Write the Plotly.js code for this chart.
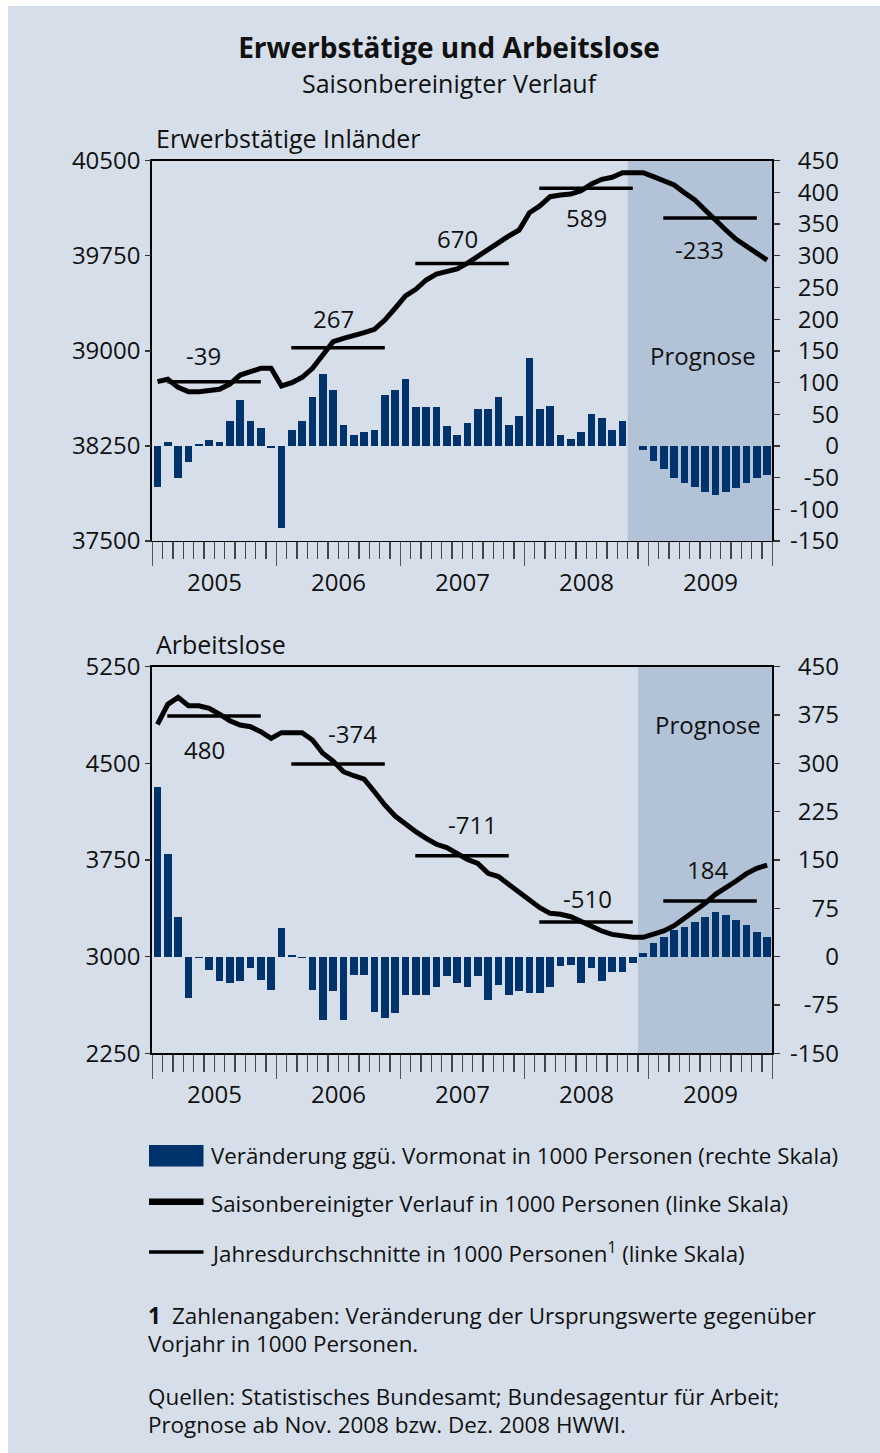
<!DOCTYPE html>
<html>
<head>
<meta charset="utf-8">
<script src="https://cdn.plot.ly/plotly-3.0.1.min.js"></script>
<style>
html,body{margin:0;padding:0;background:#ffffff;}
#chart{position:absolute;left:8px;top:6px;width:872px;height:1447px;}
</style>
</head>
<body>
<div id="chart"></div>
<script>
// ---------------- DATA ----------------
const years = ['2005', '2006', '2007', '2008', '2009'];

// Erwerbstätige Inländer – Veränderung ggü. Vormonat (1000 Personen, rechte Skala)
const empChange = [
  -65, 6, -51, -25, 3, 9, 6, 39, 72, 39, 28, -4,
  -130, 25, 39, 77, 113, 88, 33, 18, 22, 25, 81, 88,
  105, 61, 61, 61, 31, 17, 36, 58, 58, 77, 33, 47,
  138, 58, 63, 17, 11, 22, 50, 44, 25, 40, 0, -6,
  -24, -36, -50, -58, -65, -73, -77, -73, -66, -58, -50, -46
];
// Erwerbstätige Inländer – saisonbereinigter Verlauf (1000 Personen, linke Skala)
const empLevel = [
  38757, 38776, 38712, 38678, 38678, 38691, 38697, 38738, 38809, 38836, 38862, 38862,
  38723, 38749, 38791, 38862, 38975, 39072, 39099, 39117, 39143, 39170, 39243, 39336,
  39433, 39485, 39559, 39606, 39630, 39646, 39692, 39748, 39801, 39861, 39906, 39953,
  40090, 40143, 40216, 40229, 40237, 40263, 40316, 40353, 40369, 40405, 40408, 40405,
  40374, 40340, 40308, 40248, 40190, 40111, 40027, 39953, 39880, 39822, 39769, 39716
];
const empAvg = [38757, 39025, 39690, 40282, 40048];
const empAvgLabels = ['-39', '267', '670', '589', '-233'];

// Arbeitslose – Veränderung ggü. Vormonat (1000 Personen, rechte Skala)
const unempChange = [
  263, 160, 61, -64, -2, -21, -38, -41, -38, -18, -36, -52,
  44, 2, -2, -52, -98, -53, -98, -28, -28, -86, -95, -87,
  -59, -59, -59, -47, -30, -41, -47, -30, -67, -44, -59, -53,
  -56, -56, -47, -14, -13, -41, -18, -38, -24, -24, -10, 6,
  21, 31, 41, 46, 54, 62, 69, 65, 57, 49, 38, 31
];
// Arbeitslose – saisonbereinigter Verlauf (1000 Personen, linke Skala)
const unempLevel = [
  4803, 4958, 5012, 4947, 4947, 4927, 4881, 4831, 4797, 4784, 4746, 4694,
  4738, 4741, 4738, 4681, 4578, 4518, 4435, 4404, 4378, 4280, 4177, 4091,
  4027, 3970, 3918, 3872, 3846, 3802, 3755, 3724, 3647, 3621, 3561, 3504,
  3432, 3380, 3336, 3329, 3310, 3271, 3240, 3199, 3173, 3160, 3150, 3150,
  3173, 3199, 3240, 3298, 3349, 3414, 3484, 3530, 3587, 3644, 3686, 3711
];
const unempAvg = [4867, 4495, 3783, 3269, 3432];
const unempAvgLabels = ['480', '-374', '-711', '-510', '184'];

// tick labels
const leftTicksEmp = [37500, 38250, 39000, 39750, 40500];
const rightTicksEmp = [-150, -100, -50, 0, 50, 100, 150, 200, 250, 300, 350, 400, 450];
const leftTicksUnemp = [2250, 3000, 3750, 4500, 5250];
const rightTicksUnemp = [-150, -75, 0, 75, 150, 225, 300, 375, 450];

// forecast (Prognose) start month index: Nov 2008 / Dez 2008
const forecastStartEmp = 46;
const forecastStartUnemp = 47;

// ---------------- LAYOUT HELPERS ----------------
const W = 872, H = 1447, OX = 8, OY = 6;
const px = x => (x - OX) / W;
const py = y => 1 - (y - OY) / H;

const FONT = '"Open Sans", sans-serif';
const TXT = '#111111';
const BG = '#d6dfe9';
const SHADE = '#b2c3d8';
const BAR = '#00336b';

const nMonths = years.length * 12;
const monthX = Array.from({length: nMonths}, (_, i) => i);
const xRange = [-0.5, nMonths - 0.5];

function avgSegments(levels) {
  const xs = [], ys = [];
  levels.forEach((v, k) => {
    xs.push(k * 12 + 0.95, k * 12 + 10.0, null);
    ys.push(v, v, null);
  });
  return {xs, ys};
}

const segEmp = avgSegments(empAvg);
const segUnemp = avgSegments(unempAvg);

const traces = [
  {type: 'bar', x: monthX, y: empChange, xaxis: 'x', yaxis: 'y',
   marker: {color: BAR, line: {width: 0}}, width: 0.72, hoverinfo: 'skip'},
  {type: 'scatter', mode: 'lines', x: monthX, y: empLevel, xaxis: 'x', yaxis: 'y2',
   line: {color: '#000', width: 5}, hoverinfo: 'skip'},
  {type: 'scatter', mode: 'lines', x: segEmp.xs, y: segEmp.ys, xaxis: 'x', yaxis: 'y2',
   line: {color: '#000', width: 3.5}, connectgaps: false, hoverinfo: 'skip'},
  // carrier for the right-hand tick-label axis (draws nothing)
  {type: 'scatter', mode: 'lines', x: [0], y: [null], xaxis: 'x', yaxis: 'y3', hoverinfo: 'skip'},

  {type: 'bar', x: monthX, y: unempChange, xaxis: 'x2', yaxis: 'y4',
   marker: {color: BAR, line: {width: 0}}, width: 0.72, hoverinfo: 'skip'},
  {type: 'scatter', mode: 'lines', x: monthX, y: unempLevel, xaxis: 'x2', yaxis: 'y5',
   line: {color: '#000', width: 5}, hoverinfo: 'skip'},
  {type: 'scatter', mode: 'lines', x: segUnemp.xs, y: segUnemp.ys, xaxis: 'x2', yaxis: 'y5',
   line: {color: '#000', width: 3.5}, connectgaps: false, hoverinfo: 'skip'},
  {type: 'scatter', mode: 'lines', x: [0], y: [null], xaxis: 'x2', yaxis: 'y6', hoverinfo: 'skip'}
];

const plotL = 152.3, plotR = 772.3;
const topT = 160.7, topB = 541, botT = 666.7, botB = 1053.3;
const tickFont = {family: FONT, size: 24, color: TXT};

function xAxis(anchor) {
  return {
    domain: [px(plotL), px(plotR)], anchor: anchor, range: xRange, autorange: false,
    tickmode: 'linear', tick0: -0.5, dtick: 12, ticks: 'outside', ticklen: 24,
    tickcolor: '#555', tickwidth: 1.3, showticklabels: false,
    showline: true, linecolor: '#000', linewidth: 1.3, mirror: true,
    showgrid: false, zeroline: false, fixedrange: true,
    minor: {tickmode: 'linear', tick0: -0.5, dtick: 1, ticks: 'outside', ticklen: 17,
            tickcolor: '#444', tickwidth: 1.1, showgrid: false}
  };
}
function baseAxis(xa, top, bottom, ticks) {
  return {
    domain: [py(bottom), py(top)], anchor: xa, side: 'right', range: [-150, 450], autorange: false,
    tickmode: 'array', tickvals: ticks, ticks: 'outside', ticklen: 6, tickcolor: '#333', tickwidth: 1.3,
    showticklabels: false, showline: true, linecolor: '#000', linewidth: 2, mirror: true,
    showgrid: false, zeroline: false, fixedrange: true
  };
}
function levelAxis(base, xa, range, ticks) {
  return {
    overlaying: base, anchor: xa, side: 'left', range: range, autorange: false,
    tickmode: 'array', tickvals: ticks, ticktext: ticks.map(String),
    ticks: 'outside', ticklen: 6, tickcolor: '#333', tickwidth: 1.3,
    tickfont: tickFont, showline: false, showgrid: false, zeroline: false, fixedrange: true
  };
}
function rightLabelAxis(base, ticks) {
  return {
    overlaying: base, anchor: 'free', position: px(839), side: 'left', range: [-150, 450], autorange: false,
    tickmode: 'array', tickvals: ticks, ticktext: ticks.map(String), ticks: '',
    tickfont: tickFont, showline: false, showgrid: false, zeroline: false, fixedrange: true
  };
}

const annotations = [];
function addText(text, x, y, size, opts) {
  annotations.push(Object.assign({
    text: text, xref: 'paper', yref: 'paper', x: px(x), y: py(y),
    xanchor: 'left', yanchor: 'middle', showarrow: false,
    font: {family: FONT, size: size, color: TXT}
  }, opts || {}));
}

// subtitle & panel titles
addText('Saisonbereinigter Verlauf', 449.5, 83, 25, {xanchor: 'center'});
addText('Erwerbstätige Inländer', 153.5, 138, 25);
addText('Arbeitslose', 154, 644, 25);

// year labels (under each x axis)
years.forEach((yr, k) => {
  annotations.push({text: yr, xref: 'x', yref: 'paper', x: k * 12 + 5.5, y: py(581.5),
    xanchor: 'center', yanchor: 'middle', showarrow: false, font: {family: FONT, size: 24, color: TXT}});
  annotations.push({text: yr, xref: 'x2', yref: 'paper', x: k * 12 + 5.5, y: py(1093.5),
    xanchor: 'center', yanchor: 'middle', showarrow: false, font: {family: FONT, size: 24, color: TXT}});
});

// annual average labels (positions in data coordinates)
const empLabelPos = [[4.48, 38963], [16.99, 39259], [28.99, 39890], [41.48, 40052], [52.42, 39799]];
const unempLabelPos = [[4.53, 4607], [18.83, 4730], [30.48, 4022], [41.66, 3450], [53.2, 3678]];
empAvgLabels.forEach((t, k) => annotations.push({text: t, xref: 'x', yref: 'y2',
  x: empLabelPos[k][0], y: empLabelPos[k][1], xanchor: 'center', yanchor: 'middle', showarrow: false,
  font: {family: FONT, size: 24, color: TXT}}));
unempAvgLabels.forEach((t, k) => annotations.push({text: t, xref: 'x2', yref: 'y5',
  x: unempLabelPos[k][0], y: unempLabelPos[k][1], xanchor: 'center', yanchor: 'middle', showarrow: false,
  font: {family: FONT, size: 24, color: TXT}}));

// Prognose labels
annotations.push({text: 'Prognose', xref: 'x', yref: 'y2', x: 52.76, y: 38967, xanchor: 'center',
  yanchor: 'middle', showarrow: false, font: {family: FONT, size: 24, color: TXT}});
annotations.push({text: 'Prognose', xref: 'x2', yref: 'y5', x: 53.23, y: 4805, xanchor: 'center',
  yanchor: 'middle', showarrow: false, font: {family: FONT, size: 24, color: TXT}});

// legend texts
addText('Veränderung ggü. Vormonat in 1000 Personen (rechte Skala)', 209, 1155, 22.3);
addText('Saisonbereinigter Verlauf in 1000 Personen (linke Skala)', 209, 1203, 22.3);
addText('Jahresdurchschnitte in 1000 Personen<sup>1</sup> (linke Skala)', 209, 1252, 22.3);

// footnote and sources
addText('<b>1</b>\u2002Zahlenangaben: Veränderung der Ursprungswerte gegenüber', 146, 1315, 22.4);
addText('Vorjahr in 1000 Personen.', 146, 1343, 22.4);
addText('Quellen: Statistisches Bundesamt; Bundesagentur für Arbeit;', 146, 1396, 22.4);
addText('Prognose ab Nov. 2008 bzw. Dez. 2008 HWWI.', 146, 1424, 22.4);

const shapes = [
  {type: 'rect', xref: 'x', yref: 'y domain', x0: forecastStartEmp - 0.5, x1: nMonths - 0.5, y0: 0, y1: 1,
   fillcolor: SHADE, line: {width: 0}, layer: 'below'},
  {type: 'rect', xref: 'x2', yref: 'y4 domain', x0: forecastStartUnemp - 0.5, x1: nMonths - 0.5, y0: 0, y1: 1,
   fillcolor: SHADE, line: {width: 0}, layer: 'below'},
  // legend symbols
  {type: 'rect', xref: 'paper', yref: 'paper', x0: px(149), x1: px(203.5), y0: py(1166.5), y1: py(1145),
   fillcolor: BAR, line: {width: 0}},
  {type: 'line', xref: 'paper', yref: 'paper', x0: px(149), x1: px(203.5), y0: py(1201.7), y1: py(1201.7),
   line: {color: '#000', width: 6.5}},
  {type: 'line', xref: 'paper', yref: 'paper', x0: px(149), x1: px(203.5), y0: py(1252), y1: py(1252),
   line: {color: '#000', width: 3.3}}
];

const layout = {
  width: W, height: H,
  margin: {l: 0, r: 0, t: 0, b: 0, pad: 0},
  paper_bgcolor: BG, plot_bgcolor: BG,
  showlegend: false, bargap: 0,
  font: {family: FONT, color: TXT},
  title: {text: '<b>Erwerbstätige und Arbeitslose</b>', xref: 'paper', yref: 'paper',
          x: px(449), xanchor: 'center', y: py(48), yanchor: 'middle',
          font: {family: FONT, size: 28, color: TXT}},
  xaxis: xAxis('y'),
  yaxis: baseAxis('x', topT, topB, rightTicksEmp),
  yaxis2: levelAxis('y', 'x', [37500, 40500], leftTicksEmp),
  yaxis3: rightLabelAxis('y', rightTicksEmp),
  xaxis2: xAxis('y4'),
  yaxis4: baseAxis('x2', botT, botB, rightTicksUnemp),
  yaxis5: levelAxis('y4', 'x2', [2250, 5250], leftTicksUnemp),
  yaxis6: rightLabelAxis('y4', rightTicksUnemp),
  annotations: annotations,
  shapes: shapes
};

Plotly.newPlot('chart', traces, layout, {staticPlot: true, displayModeBar: false});
</script>
</body>
</html>
